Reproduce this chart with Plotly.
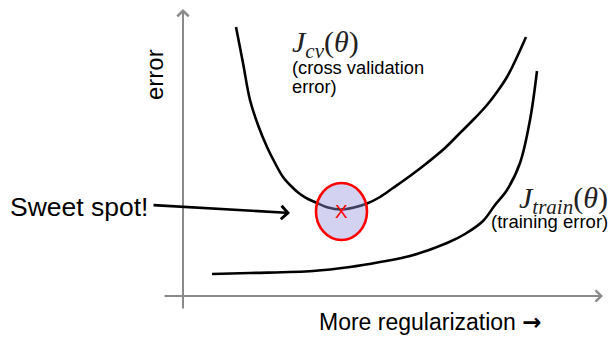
import plotly.graph_objects as go

# Schematic units: origin where the two axes cross
cv_reg = [53, 60, 67, 75, 84, 92, 100, 109, 117, 125, 134, 145, 158, 171, 184, 197, 210, 227, 244, 262, 277, 292, 304, 314, 324, 334, 343]
cv_err = [269, 233, 196, 171, 149, 133, 119, 109, 102, 97, 93, 88.5, 86.5, 88.5, 92.5, 99, 108, 120, 133, 148, 163, 178, 191, 204, 219, 239, 259]

train_reg = [29, 67, 130, 167, 197, 227, 264, 282, 300, 312, 324, 337, 347, 354]
train_err = [22, 23, 25, 29, 34, 40, 53, 62, 75, 91, 106, 133, 176, 225]

sweet_reg = [158.5]
sweet_err = [84.5]

FONT = "Liberation Sans, Arial, sans-serif"
SERIF = "Liberation Serif, Times New Roman, serif"
GRAY = "#8a8a8a"

fig = go.Figure()
fig.add_trace(go.Scatter(x=cv_reg, y=cv_err, mode="lines", line=dict(color="black", width=2.6, shape="spline"), hoverinfo="skip"))
fig.add_trace(go.Scatter(x=train_reg, y=train_err, mode="lines", line=dict(color="black", width=2.6, shape="spline"), hoverinfo="skip"))

# sweet spot ellipse
fig.add_shape(type="circle", xref="x", yref="y",
              x0=sweet_reg[0] - 25.5, x1=sweet_reg[0] + 25.5,
              y0=sweet_err[0] - 28.5, y1=sweet_err[0] + 28.5,
              fillcolor="rgba(150,150,222,0.42)", line=dict(color="#ff0000", width=2.6), layer="above")

ann = []
# axes with arrows
ann.append(dict(x=0, y=287, ax=0, ay=-14, xref="x", yref="y", axref="x", ayref="y", text="",
                showarrow=True, arrowhead=4, arrowsize=1.1, arrowwidth=2, arrowcolor=GRAY, standoff=0, startstandoff=0))
ann.append(dict(x=420, y=0, ax=-20, ay=0, xref="x", yref="y", axref="x", ayref="y", text="",
                showarrow=True, arrowhead=4, arrowsize=1.1, arrowwidth=2, arrowcolor=GRAY, standoff=0, startstandoff=0))
# sweet spot arrow
ann.append(dict(x=107, y=83, ax=-31, ay=91, xref="x", yref="y", axref="x", ayref="y", text="",
                showarrow=True, arrowhead=4, arrowsize=1.0, arrowwidth=2.6, arrowcolor="black", standoff=0, startstandoff=0))
ann.append(dict(x=sweet_reg[0], y=sweet_err[0], xref="x", yref="y", text="X", showarrow=False,
                font=dict(family=FONT, size=19, color="#ff0000"), xanchor="center", yanchor="middle"))
ann.append(dict(x=-33, y=89, xref="x", yref="y", text="Sweet spot!", showarrow=False,
                font=dict(family=FONT, size=26.5, color="black"), xanchor="right", yanchor="middle"))
# curve labels
ann.append(dict(x=107, y=252, xref="x", yref="y", text="<i>J</i><sub><i>cv</i></sub>(<i>θ</i>)", showarrow=False,
                font=dict(family=SERIF, size=30, color="#222"), xanchor="left", yanchor="middle"))
ann.append(dict(x=107, y=229, xref="x", yref="y", text="(cross validation", showarrow=False,
                font=dict(family=FONT, size=18.3, color="black"), xanchor="left", yanchor="middle"))
ann.append(dict(x=107, y=210, xref="x", yref="y", text="error)", showarrow=False,
                font=dict(family=FONT, size=18.3, color="black"), xanchor="left", yanchor="middle"))
ann.append(dict(x=427, y=96, xref="x", yref="y", text="<i>J</i><sub><i>train</i></sub>(<i>θ</i>)", showarrow=False,
                font=dict(family=SERIF, size=30, color="#222"), xanchor="right", yanchor="middle"))
ann.append(dict(x=427, y=75, xref="x", yref="y", text="(training error)", showarrow=False,
                font=dict(family=FONT, size=18.5, color="black"), xanchor="right", yanchor="middle"))
# axis titles
ann.append(dict(x=-29, y=221, xref="x", yref="y", text="error", textangle=-90, showarrow=False,
                font=dict(family=FONT, size=24, color="black"), xanchor="center", yanchor="middle"))
ann.append(dict(x=247, y=-26, xref="x", yref="y",
                text="More regularization <span style=\"font-family:DejaVu Sans;font-weight:bold\">→</span>",
                showarrow=False,
                font=dict(family=FONT, size=23, color="black"), xanchor="center", yanchor="middle"))

fig.update_layout(
    width=613, height=342, margin=dict(l=0, r=0, t=0, b=0),
    paper_bgcolor="white", plot_bgcolor="white", showlegend=False,
    xaxis=dict(range=[-183, 430], visible=False, fixedrange=True),
    yaxis=dict(range=[-46, 296], visible=False, fixedrange=True),
    annotations=ann,
)
fig.write_html("out.html", config={"displayModeBar": False},
               post_script="document.body.style.margin='0';document.body.style.overflow='hidden';")
